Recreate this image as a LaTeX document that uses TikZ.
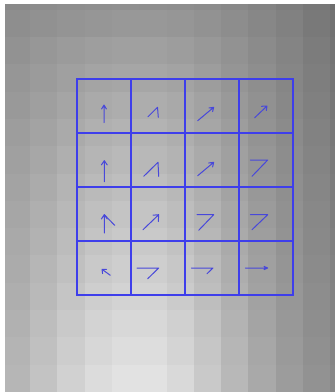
\documentclass[tikz,border=0pt]{standalone}
\definecolor{gridblue}{RGB}{62,62,235}
\definecolor{vecblue}{RGB}{72,72,218}
\tikzset{
  gridline/.style={color=gridblue, line width=1.8bp},
  vec/.style={color=vecblue, line width=1bp, line cap=round, line join=round}
}
\begin{document}
\begin{tikzpicture}[x=1bp,y=-1bp]
\useasboundingbox (0,0) rectangle (335,392);
\fill[white] (0,0) rectangle (335,392);
% blocky grey background
\begin{scope}
\clip (5,4) rectangle (335,392);
\foreach \c in {0,...,12}{
  \foreach \r in {-1,...,13}{
    \pgfmathsetmacro\xa{2.7+27.3*\c}
    \pgfmathsetmacro\ya{9.7+27.3*\r}
    \pgfmathsetmacro\xc{\xa+13.65}
    \pgfmathsetmacro\yc{max(\ya+13.65,1)}
    \pgfmathsetmacro\sx{\xc<140 ? 85 : 70}
    \pgfmathsetmacro\T{\xc<140 ? 0.56-0.03*((\xc-140)/140)^2 : 0.56-0.1*((\xc-140)/180)^2}
    \pgfmathsetmacro\D{0.10+0.24*exp(-0.5*((\xc-140)/\sx)^2)}
    \pgfmathsetmacro\B{min(max(\T+\D*pow(\yc/392,0.8),0),1)}
    \definecolor{bgc}{gray}{\B}
    \fill[bgc] (\xa,\ya) rectangle ++(27.45,27.45);
  }
}
\end{scope}
% grid
\begin{scope}[gridline]
\draw (77,79) rectangle (293,295);
\foreach \x in {131,185,239}{\draw (\x,79) -- (\x,295);}
\foreach \y in {133,187,241}{\draw (77,\y) -- (293,\y);}
\end{scope}
\begin{scope}[vec]
% row 1
\draw (104,122.7) -- (104,105) (101.6,109) -- (104,105) -- (106.4,109);
\draw (148,116.7) -- (157.5,107.3) -- (158.3,117.3);
\draw (197.7,120.7) -- (213.7,107.3) (209,108) -- (213.7,107.3) -- (212.6,111.6);
\draw (254.7,117.7) -- (267,106) (261.5,106.3) -- (267,106) -- (266.3,110.5);
% row 2
\draw (104.3,181.7) -- (104.3,160.7) (101.4,164.9) -- (104.3,160.7) -- (107.2,164.9);
\draw (143.7,176.3) -- (158,162.3) -- (158.7,176.3);
\draw (197.7,175.7) -- (213.7,162.3) (208.7,163) -- (213.7,162.3) -- (212.6,167);
\draw (252,176.3) -- (267.7,160) -- (250.3,160);
% row 3
\draw (104.3,233) -- (104.3,214.7) (101.4,219) -- (104.3,214.7) -- (107.2,219);
\draw (104.3,214.7) -- (114.7,225.3);
\draw (143,229.7) -- (158.7,214.7) (153,215.2) -- (158.7,214.7) -- (158.3,221.5);
\draw (198.7,230.3) -- (213.7,214.7) -- (197,214.7);
\draw (252,229.7) -- (267.7,214.7) -- (250.3,214.7);
% row 4
\draw (110.3,275.3) -- (102,269.3) (106.5,269.3) -- (102,269.3) -- (102.6,273.6);
\draw (137,268) -- (158.7,268) -- (147.7,278.7);
\draw (191.3,268) -- (213,268) -- (207,273.7);
\draw (245.3,268) -- (267.7,268) (264,266.4) -- (267.7,268) -- (264,269.6);
\end{scope}
\end{tikzpicture}
\end{document}
